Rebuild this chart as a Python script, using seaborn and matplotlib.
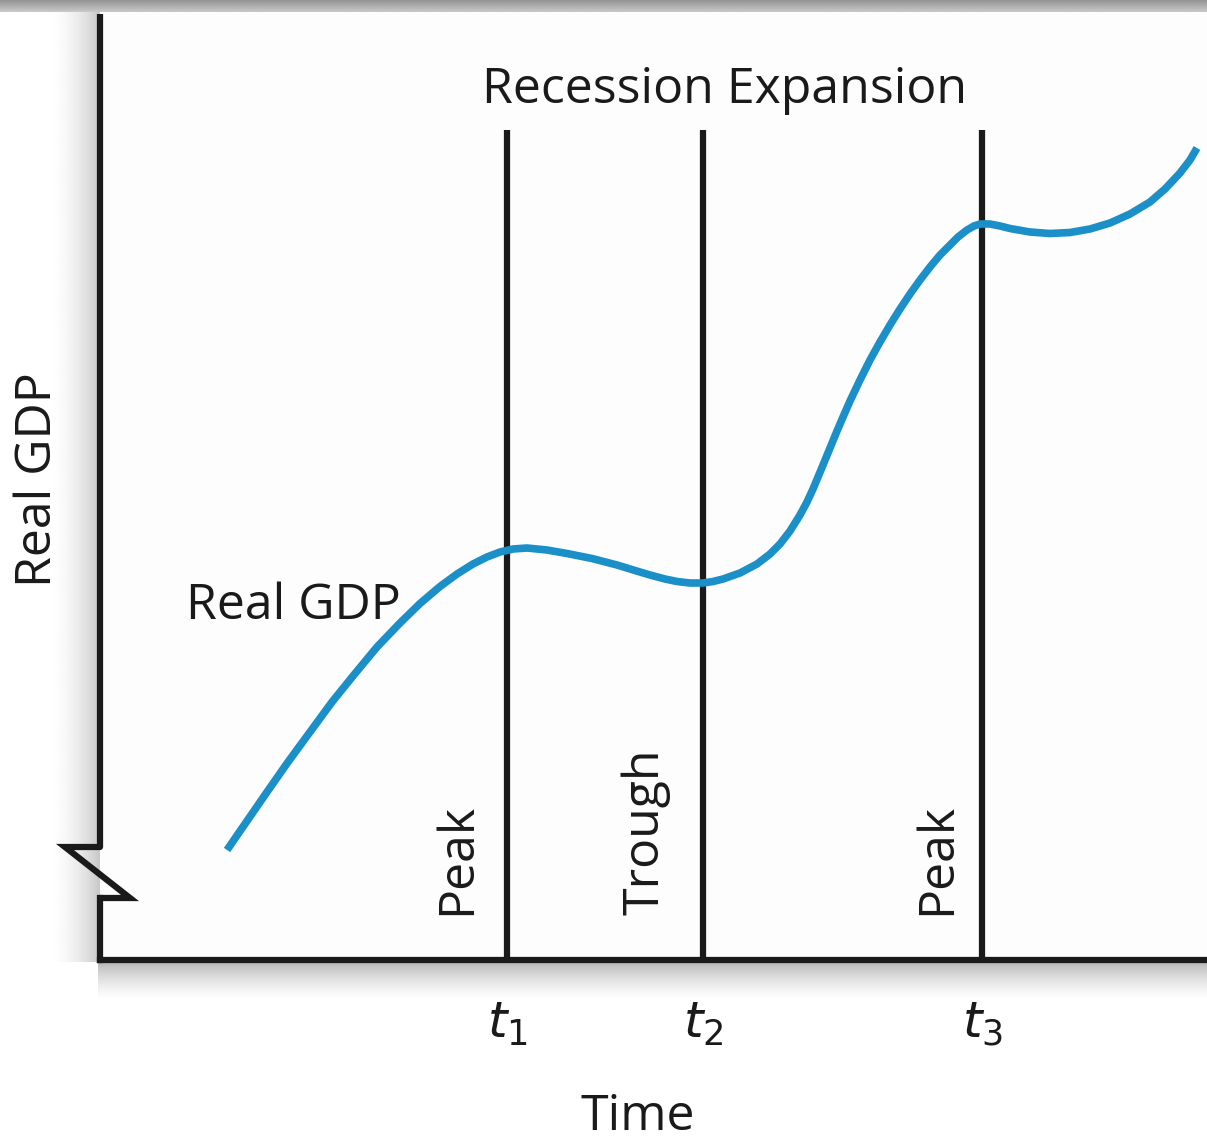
import numpy as np
import pandas as pd
import matplotlib
matplotlib.use("Agg")
import matplotlib.pyplot as plt
import seaborn as sns

# ---- data (pixel-space readings, y measured downward from figure top) ----
gdp_x = [227, 247, 267, 288, 310, 332, 353, 377, 400, 420, 440, 457, 473, 487,
         500, 513, 527, 547, 567, 592, 617, 635, 650, 665, 677, 690, 703, 713,
         723, 740, 757, 770, 780, 790, 800, 807, 813, 818, 823, 830, 837, 843,
         850, 860, 870, 880, 890, 900, 910, 920, 930, 940, 950, 958, 967, 974,
         980, 990, 1000, 1010, 1030, 1050, 1070, 1090, 1110, 1130, 1150, 1165,
         1180, 1190, 1197]
gdp_y_px = [850, 821, 792, 762, 732, 702, 676, 647, 623, 603.5, 586.5, 574, 564,
            557, 552, 549, 548, 550, 553.5, 558.5, 565, 570.5, 575, 579, 581.5,
            583, 583, 581.5, 579, 573, 564, 554, 544, 531, 515, 502, 489, 477,
            465, 448, 431, 417, 401, 380, 360, 342, 325, 309, 294, 280, 267, 255,
            245, 237, 230, 226, 224, 224, 226, 228.5, 232, 233.5, 232.5, 229, 223,
            214, 202, 189, 173, 160, 148]
H = 1144
gdp_y = [H - v for v in gdp_y_px]

event_x = [507, 703, 982]
event_labels = ["Peak", "Trough", "Peak"]
tick_labels = ["$t_1$", "$t_2$", "$t_3$"]
top_label = "Recession Expansion"
curve_label = "Real GDP"
x_title = "Time"
y_title = "Real GDP"

df = pd.DataFrame({"x": gdp_x, "y": gdp_y})

sns.set_theme(style="white")
plt.rcParams['font.family'] = ['Open Sans', 'DejaVu Sans']

W = 1207
fig = plt.figure(figsize=(W / 100, H / 100), dpi=100)
fig.patch.set_facecolor("white")

x0, x1 = 100, 1207
ytop_px, ybot_px = 12, 960

# soft shadows (decorative)
def band(rect, arr):
    b = fig.add_axes(rect, zorder=0)
    b.imshow(arr, cmap="gray", vmin=0, vmax=1, aspect="auto", extent=[0, 1, 0, 1],
             interpolation="bilinear")
    b.axis("off")

band([0, 1 - 12 / H, 1, 12 / H],
     np.repeat(np.linspace(0.58, 0.78, 12).reshape(-1, 1), 10, axis=1))
# left shadow: white at far left -> gray next to the axis
lx = np.linspace(0, 1, 55) ** 2
band([45 / W, (H - 962) / H, 55 / W, (962 - 12) / H],
     np.repeat((1.0 - 0.22 * lx).reshape(1, -1), 10, axis=0))
# bottom shadow: gray next to the axis -> white further down
by = np.linspace(1, 0, 40) ** 1.5
band([98 / W, (H - 1002) / H, (W - 98) / W, 40 / H],
     np.repeat((1.0 - 0.28 * by).reshape(-1, 1), 10, axis=1))

ax = fig.add_axes([x0 / W, (H - ybot_px) / H, (x1 - x0) / W, (ybot_px - ytop_px) / H],
                  zorder=2)
ax.set_xlim(x0, x1)
ax.set_ylim(H - ybot_px, H - ytop_px)
ax.set_facecolor("#fdfdfd")

for s in ["top", "right", "left"]:
    ax.spines[s].set_visible(False)
ax.spines["bottom"].set_linewidth(4.5)
ax.spines["bottom"].set_color("#1a1a1a")
ax.set_xticks([])
ax.set_yticks([])

# vertical event lines
for ex in event_x:
    ax.plot([ex, ex], [H - 960, H - 130], color="#1a1a1a", lw=4.5, solid_capstyle="butt")

# curve
sns.lineplot(data=df, x="x", y="y", sort=False, ax=ax, color="#1b8fc8", lw=5.5,
             solid_capstyle="butt")

# left spine with break
lc = "#1a1a1a"
ax.plot([100, 100], [H - 960, H - 898], color=lc, lw=4.5, clip_on=False,
        solid_capstyle="projecting")
ax.plot([100, 130, 65, 100], [H - 898, H - 898, H - 847, H - 847], color=lc, lw=4.5,
        clip_on=False, solid_joinstyle="miter")
ax.plot([100, 100], [H - 847, H - 14], color=lc, lw=4.5, clip_on=False,
        solid_capstyle="butt")

ax.set_xlabel("")
ax.set_ylabel("")

tc = "#1a1a1a"
fs = 36
ax.text(725, H - 90, top_label, ha="center", va="center", fontsize=fs, color=tc)
ax.text(186, H - 606, curve_label, ha="left", va="center", fontsize=fs, color=tc)
for ex, lab, lx_ in zip(event_x, event_labels, [457, 646, 937]):
    ax.text(lx_, H - 915, lab, rotation=90, ha="center", va="bottom", fontsize=fs, color=tc)
for ex, tl in zip(event_x, tick_labels):
    ax.text(ex, H - 1025, tl, ha="center", va="center", fontsize=fs, color=tc,
            clip_on=False)
ax.text(638, H - 1117, x_title, ha="center", va="center", fontsize=fs, color=tc,
        clip_on=False)
ax.text(38, H - 480, y_title, rotation=90, ha="center", va="center", fontsize=fs,
        color=tc, clip_on=False)

fig.savefig("out.png", dpi=100)
